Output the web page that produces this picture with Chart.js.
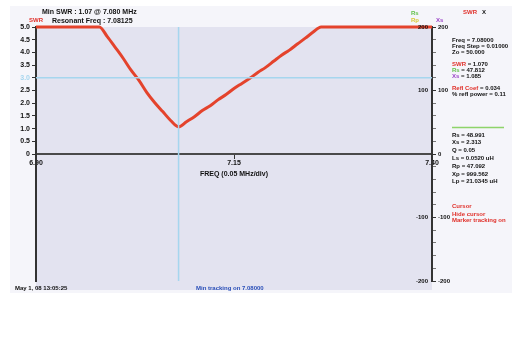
<!DOCTYPE html>
<html>
<head>
<meta charset="utf-8">
<script src="https://cdn.jsdelivr.net/npm/chart.js@4/dist/chart.umd.min.js"></script>
<style>
html,body{margin:0;padding:0;background:#fff;}
canvas{display:block;}
</style>
</head>
<body>
<canvas id="c" width="512" height="348"></canvas>
<script>
// Sweep frequencies (MHz) and measured SWR at each step
const freqMHz = [6.90, 6.92, 6.94, 6.96, 6.98, 6.99, 7.00, 7.01, 7.02, 7.03, 7.04, 7.05, 7.06, 7.07, 7.08,
                 7.09, 7.10, 7.11, 7.12, 7.13, 7.14, 7.15, 7.16, 7.17, 7.18, 7.19, 7.20, 7.21, 7.22, 7.23,
                 7.24, 7.25, 7.26, 7.28, 7.30, 7.32, 7.34, 7.36, 7.38, 7.40];
const swr = [5.0, 5.0, 5.0, 5.0, 5.0, 4.62, 4.20, 3.77, 3.30, 2.90, 2.42, 2.02, 1.67, 1.32, 1.07,
             1.27, 1.47, 1.71, 1.90, 2.14, 2.34, 2.58, 2.78, 2.98, 3.21, 3.41, 3.65, 3.89, 4.09, 4.33,
             4.56, 4.80, 5.0, 5.0, 5.0, 5.0, 5.0, 5.0, 5.0, 5.0];

// Axis ticks
const xTickValues = [6.90, 7.15, 7.40];
const swrTickStep = 0.5;
const rightTickValues = [200, 180, 160, 140, 120, 100, 80, 60, 40, 20, 0, -20, -40, -60, -80,
                         -100, -120, -140, -160, -180, -200];
const rightLabelStep = 100;
const rightInnerLabels = [200, 100, -100, -200];

// Marker position and SWR reference level
const markerFreq = 7.08;
const swrRefLevel = 3.0;

// Readout text
const titleLines = ['Min SWR : 1.07 @ 7.080 MHz', 'Resonant Freq : 7.08125'];
const readoutTop = [
  [['Freq = 7.08000', '#111']],
  [['Freq Step = 0.01000', '#111']],
  [['Zo = 50.000', '#111']],
  null,
  [['SWR', '#e0302a'], [' = 1.070', '#111']],
  [['Rs', '#62c04a'], [' = 47.812', '#111']],
  [['Xs', '#9b46c8'], [' = 1.085', '#111']],
  null,
  [['Refl Coef', '#e0302a'], [' = 0.034', '#111']],
  [['% refl power = 0.11', '#111']]
];
const readoutLower = ['Rs = 48.991', 'Xs = 2.313', 'Q = 0.05', 'Ls = 0.0520 uH',
                      'Rp = 47.092', 'Xp = 999.562', 'Lp = 21.0345 uH'];
const commandLines = ['Cursor', 'Hide cursor', 'Marker tracking on'];
const stampText = 'May 1, 08 13:05:25';
const statusText = 'Min tracking on 7.08000';

const FONT = 'Liberation Sans, Arial, sans-serif';
const tickFont = {family: FONT, size: 7, weight: 'bold'};

const panelPlugin = {
  id: 'panel',
  beforeDraw(chart) {
    const ctx = chart.ctx, a = chart.chartArea;
    ctx.save();
    ctx.fillStyle = '#f5f5fa';
    ctx.fillRect(10, 6, 502, 287);
    ctx.fillStyle = '#e3e3f0';
    ctx.fillRect(a.left, a.top, a.right - a.left, a.bottom - a.top + 9);
    ctx.restore();
  },
  afterDraw(chart) {
    const ctx = chart.ctx, a = chart.chartArea, y2 = chart.scales.y2;
    ctx.save();
    ctx.textBaseline = 'middle';
    ctx.font = 'bold 7px ' + FONT;
    ctx.fillStyle = '#111';
    ctx.textAlign = 'left';
    ctx.fillText(titleLines[0], 42, 12);
    ctx.fillText(titleLines[1], 52, 21);

    // trace legend labels
    ctx.font = 'bold 6px ' + FONT;
    ctx.fillStyle = '#e0302a'; ctx.fillText('SWR', 29, 20);
    ctx.fillStyle = '#62c04a'; ctx.fillText('Rs', 411, 13);
    ctx.fillStyle = '#d8c838'; ctx.fillText('Rp', 411, 20);
    ctx.fillStyle = '#9b46c8'; ctx.fillText('Xs', 436, 20);
    ctx.fillStyle = '#e0302a'; ctx.fillText('SWR', 463, 12);
    ctx.fillStyle = '#111'; ctx.fillText('X', 482, 12);

    // inner labels of the right axis
    ctx.font = 'bold 6px ' + FONT;
    ctx.textAlign = 'right';
    ctx.fillStyle = '#111';
    rightInnerLabels.forEach(v => ctx.fillText(String(v), a.right - 4, y2.getPixelForValue(v)));

    // readout panel
    ctx.textAlign = 'left';
    ctx.font = 'bold 6px ' + FONT;
    let y = 40;
    readoutTop.forEach(line => {
      if (line) {
        let x = 452;
        line.forEach(([t, c]) => { ctx.fillStyle = c; ctx.fillText(t, x, y); x += ctx.measureText(t).width; });
      }
      y += 6;
    });
    ctx.strokeStyle = '#8ed46a';
    ctx.lineWidth = 1.5;
    ctx.beginPath(); ctx.moveTo(452, 127.5); ctx.lineTo(504, 127.5); ctx.stroke();
    ctx.fillStyle = '#111';
    readoutLower.forEach((t, i) => ctx.fillText(t, 452, 135 + i * 7.8));
    ctx.fillStyle = '#e0302a';
    ctx.fillText(commandLines[0], 452, 206);
    ctx.fillText(commandLines[1], 452, 214);
    ctx.fillText(commandLines[2], 452, 220.5);

    // status line
    ctx.fillStyle = '#111';
    ctx.fillText(stampText, 15, 288);
    ctx.fillStyle = '#2a4fb8';
    ctx.fillText(statusText, 196, 288);
    ctx.restore();
  }
};

const lineData = freqMHz.map((f, i) => ({x: f, y: swr[i]}));

new Chart(document.getElementById('c'), {
  type: 'line',
  data: {
    datasets: [
      {
        data: [{x: markerFreq, y: -5}, {x: markerFreq, y: 5}],
        borderColor: '#a6d6ee', borderWidth: 1.5, pointRadius: 0
      },
      {
        data: [{x: 6.90, y: swrRefLevel}, {x: 7.40, y: swrRefLevel}],
        borderColor: '#a6d6ee', borderWidth: 1.5, pointRadius: 0
      },
      {
        data: lineData,
        borderColor: '#e4432c', borderWidth: 3, pointRadius: 0,
        tension: 0.25, cubicInterpolationMode: 'monotone', clip: 4
      }
    ]
  },
  options: {
    responsive: false,
    animation: false,
    devicePixelRatio: 1,
    layout: {padding: {top: 27, bottom: 67, left: 0, right: 0}},
    plugins: {legend: {display: false}, tooltip: {enabled: false}},
    scales: {
      x: {
        type: 'linear', min: 6.90, max: 7.40,
        position: {y: 0},
        afterBuildTicks: s => { s.ticks = xTickValues.map(v => ({value: v})); },
        ticks: {callback: v => v.toFixed(2), font: tickFont, color: '#111', padding: 1,
                maxRotation: 0, autoSkip: false},
        grid: {drawOnChartArea: false, tickLength: 4, color: '#333'},
        border: {color: '#4a4a4a', width: 2},
        title: {display: true, text: 'FREQ (0.05 MHz/div)', font: tickFont, color: '#111', padding: {top: 1, bottom: 0}}
      },
      y: {
        min: -5, max: 5, position: 'left',
        afterFit: s => { s.width = 36; },
        ticks: {
          stepSize: swrTickStep, autoSkip: false, font: tickFont, padding: 2,
          color: ctx => ctx.tick && Math.abs(ctx.tick.value - swrRefLevel) < 1e-6 ? '#a6d6ee' : '#111',
          callback: v => v < 0 ? '' : (v === 0 ? '0' : v.toFixed(1))
        },
        grid: {
          drawOnChartArea: false, tickLength: 4,
          tickColor: ctx => ctx.tick && ctx.tick.value < 0 ? 'rgba(0,0,0,0)' : '#333'
        },
        border: {color: '#333', width: 2}
      },
      y2: {
        min: -200, max: 200, position: 'right',
        afterFit: s => { s.width = 80; },
        afterBuildTicks: s => { s.ticks = rightTickValues.map(v => ({value: v})); },
        ticks: {
          font: {family: FONT, size: 6, weight: 'bold'}, color: '#111', padding: 2, autoSkip: false,
          callback: v => v % rightLabelStep === 0 ? String(v) : ''
        },
        grid: {
          drawOnChartArea: false, color: '#333',
          tickLength: 4,
          tickColor: ctx => ctx.tick && ctx.tick.value % rightLabelStep === 0 ? '#333' : '#777'
        },
        border: {color: '#333', width: 2}
      }
    }
  },
  plugins: [panelPlugin]
});
</script>
</body>
</html>
